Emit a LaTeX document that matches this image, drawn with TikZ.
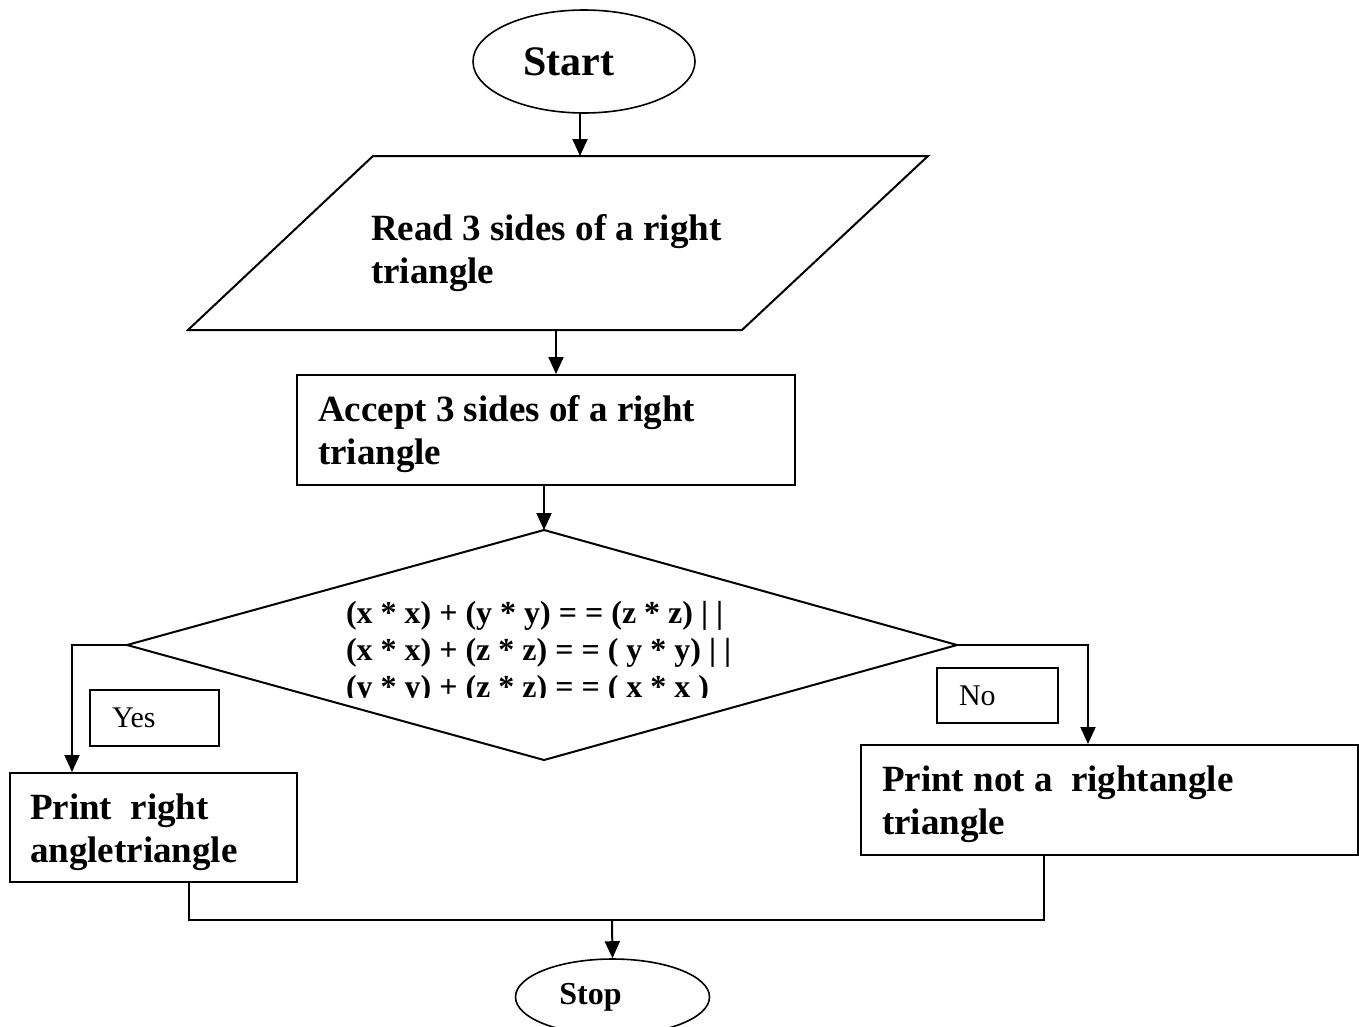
\documentclass[tikz,border=0pt]{standalone}
\usepackage{fontspec}
\setmainfont{Liberation Serif}
\usetikzlibrary{shapes.geometric,arrows.meta}
\begin{document}
\begin{tikzpicture}[x=1pt,y=-1pt,
  line width=2pt,
  arr/.style={-{Triangle[length=17pt,width=15pt]}},
  term/.style={draw, ellipse, line width=1.6pt, inner sep=0pt},
  procbox/.style={draw, rectangle, inner ysep=0pt, align=flush left,
    font=\bfseries\fontsize{37}{43}\selectfont},
  tagbox/.style={draw, rectangle, inner ysep=0pt, inner xsep=22pt, align=flush left,
    font=\fontsize{30}{34}\selectfont},
  bigtext/.style={align=flush left, inner sep=0pt, font=\bfseries\fontsize{37}{43}\selectfont},
  condtext/.style={align=flush left, inner sep=0pt, font=\bfseries\fontsize{32}{37}\selectfont},
]
\clip (0,0) rectangle (1359,1026);

% Start
\node[term, minimum width=222pt, minimum height=103pt,
  font=\bfseries\fontsize{42}{48}\selectfont] (start) at (584,61.5) {Start\hspace*{31pt}};

% Parallelogram (input)
\coordinate (ptl) at (373,156);
\coordinate (ptr) at (928,156);
\coordinate (pbr) at (742,330);
\coordinate (pbl) at (188,330);
\draw (ptl) -- (ptr) -- (pbr) -- (pbl) -- cycle;
\node[bigtext, anchor=west] (readtxt) at (370,253) {Read 3 sides of a right\\triangle};
\coordinate (pin) at (580,156);
\coordinate (pout) at (556,330);

% Accept box
\node[procbox, minimum width=498pt, minimum height=110pt, inner xsep=21pt, text width=456pt]
  (accept) at (546,430) {\rule{0pt}{35pt}Accept 3 sides of a right\\triangle};

% Decision diamond
\coordinate (dtop) at (544,530);
\coordinate (dleft) at (127,645);
\coordinate (dright) at (957,645);
\coordinate (dbot) at (544,760);
\draw (dtop) -- (dright) -- (dbot) -- (dleft) -- cycle;
\begin{scope}
  \clip (300,590) rectangle (800,697);
  \node[condtext, anchor=west] (cond) at (345,653)
    {(x * x) + (y * y) = = (z * z) | |\\(x * x) + (z * z) = = ( y * y) | |\\(y * y) + (z * z) = = ( x * x )};
\end{scope}

% Yes / No labels
\node[tagbox, minimum width=129pt, minimum height=56pt, text width=85pt] (yes) at (154.5,718) {Yes};
\node[tagbox, minimum width=121pt, minimum height=55pt, text width=77pt] (no) at (997.5,695.5) {No};

% Output boxes
\node[procbox, minimum width=287pt, minimum height=109pt, inner xsep=20pt, text width=247pt]
  (pr1) at (153.5,827.5) {\rule{0pt}{35pt}Print\ \ right\\angletriangle};
\node[procbox, minimum width=497pt, minimum height=110pt, inner xsep=21pt, text width=455pt]
  (pr2) at (1109.5,800) {\rule{0pt}{35pt}Print not a\ \ rightangle\\triangle};

% Stop
\node[term, minimum width=194pt, minimum height=76pt,
  font=\bfseries\fontsize{32}{36}\selectfont] (stop) at (612.5,997) {Stop\hspace*{44pt}};
\coordinate (merge) at (612,920);

% Connectors
\draw[arr] (start.south -| pin) -- (pin);
\draw[arr] (pout) -- (pout |- accept.north);
\draw[arr] (accept.south -| dtop) -- (dtop);
\draw[arr] (dleft) -| ([xshift=63pt]pr1.north west);
\draw[arr] (dright) -| ([xshift=228pt]pr2.north west);
\draw ([xshift=180pt]pr1.south west) |- (merge) -| ([xshift=184pt]pr2.south west);
\draw[arr] (merge) -- (stop.north);
\end{tikzpicture}
\end{document}
